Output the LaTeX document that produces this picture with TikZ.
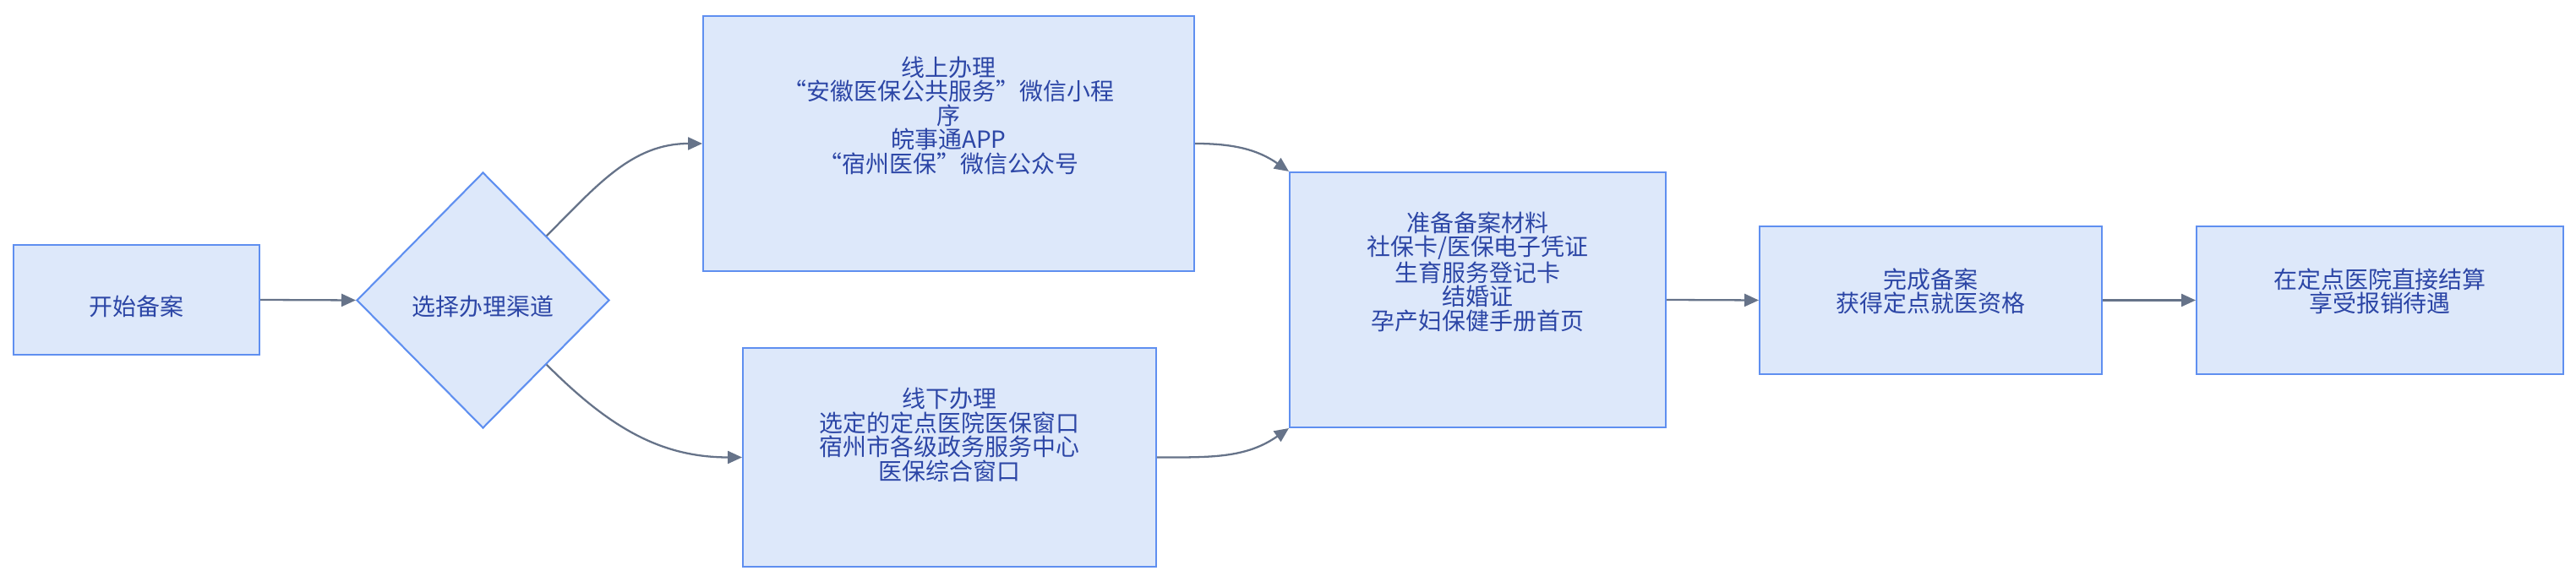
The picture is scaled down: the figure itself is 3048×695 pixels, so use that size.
\documentclass[tikz,border=0pt]{standalone}
\usepackage{fontspec}
\setmainfont{Noto Sans CJK SC}
\usetikzlibrary{shapes.geometric,arrows.meta}
\definecolor{boxfill}{HTML}{DDE8FA}
\definecolor{boxline}{HTML}{5F8FF0}
\definecolor{txtblue}{HTML}{2C46A6}
\definecolor{linkgray}{HTML}{667389}
\begin{document}
\begin{tikzpicture}[x=0.02cm,y=0.02cm,
		box/.style={draw=boxline,fill=boxfill,line width=1.2pt,inner sep=0pt},
		txt/.style={text=txtblue,align=center,font=\fontsize{15.9pt}{16.2pt}\selectfont},
		link/.style={draw=linkgray,line width=1.3pt,-{Triangle[length=0.34cm,width=0.3cm]}}]
			\useasboundingbox (0,0) rectangle (3048,695);
			\node[box,minimum width=5.82cm,minimum height=2.6cm,
				label={[txt,yshift=-0.16cm]center:开始备案}] (start) at (161.5,340) {};
			\node[box,diamond,minimum width=5.98cm,minimum height=6.06cm,
				label={[txt,yshift=-0.15cm]center:选择办理渠道}] (choice) at (571.5,339.5) {};
			\node[box,minimum width=11.62cm,minimum height=6.04cm,
				label={[txt,yshift=0.67cm]center:{线上办理\\“安徽医保公共服务”微信小程\\序\\皖事通APP\\“宿州医保”微信公众号}}] (online) at (1122.5,525) {};
			\node[box,minimum width=9.78cm,minimum height=5.18cm,
				label={[txt,yshift=0.53cm]center:{线下办理\\选定的定点医院医保窗口\\宿州市各级政务服务中心\\医保综合窗口}}] (offline) at (1123.5,153.5) {};
			\node[box,minimum width=8.9cm,minimum height=6.04cm,
				label={[txt,yshift=0.67cm]center:{准备备案材料\\社保卡/医保电子凭证\\生育服务登记卡\\结婚证\\孕产妇保健手册首页}}] (prepare) at (1748.5,340) {};
			\node[box,minimum width=8.1cm,minimum height=3.5cm,
				label={[txt,yshift=0.21cm]center:{完成备案\\获得定点就医资格}}] (done) at (2284.5,339.5) {};
			\node[box,minimum width=8.68cm,minimum height=3.5cm,
				label={[txt,yshift=0.21cm]center:{在定点医院直接结算\\享受报销待遇}}] (final) at (2816,339.5) {};
			% links
			\draw[link] (start.east) -- (choice.west);
			\draw[link] (choice.north east) to[out=45,in=180] (online.west);
			\draw[link] (choice.south east) to[out=-45,in=180] (offline.west);
			\draw[link] (online.east) to[out=0,in=145] (prepare.north west);
			\draw[link] (offline.east) to[out=0,in=215] (prepare.south west);
			\draw[link] (prepare.east) -- (done.west);
			\draw[link] (done.east) -- (final.west);
		\end{tikzpicture}
\end{document}
